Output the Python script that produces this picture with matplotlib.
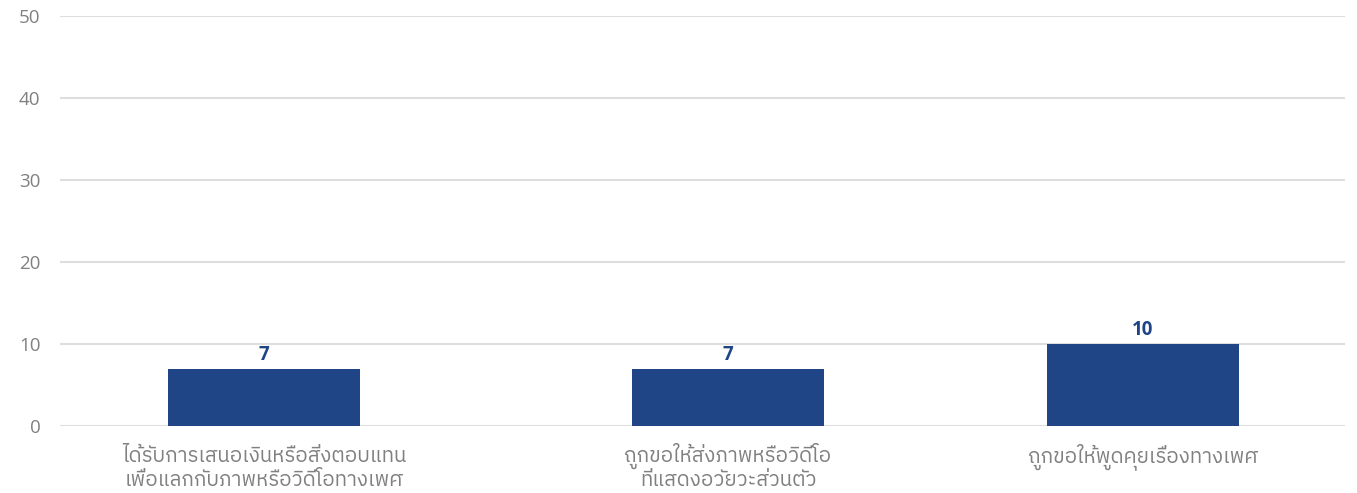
import matplotlib
matplotlib.use("Agg")
import matplotlib.pyplot as plt
from matplotlib import font_manager
from matplotlib.transforms import blended_transform_factory
from fontTools.ttLib import TTFont

categories = [
    "ได้รับการเสนอเงินหรือสิ่งตอบแทน\nเพื่อแลกกับภาพหรือวิดีโอทางเพศ",
    "ถูกขอให้ส่งภาพหรือวิดีโอ\nที่แสดงอวัยวะส่วนตัว",
    "ถูกขอให้พูดคุยเรื่องทางเพศ",
]
values = [7, 7, 10]
y_ticks = [0, 10, 20, 30, 40, 50]

# slot centres along the category axis
slots = [0.0, 1.0, 1.894]
bar_width = 0.414

BAR = "#1f4586"
GRID = "#dedede"
TXT = "#808080"


def thai_family():
    preferred = []
    others = []
    for f in font_manager.fontManager.ttflist:
        try:
            cmap = TTFont(f.fname, fontNumber=0, lazy=True).getBestCmap()
        except Exception:
            continue
        if cmap and 0x0E01 in cmap and 0x0E34 in cmap:
            if "Thai" in f.name or "Noto" in f.name:
                preferred.append(f.name)
            else:
                others.append(f.name)
    for name in preferred + others:
        return name
    return None


tf = thai_family()
families = ([tf] if tf else []) + ["Open Sans", "DejaVu Sans"]
plt.rcParams["font.family"] = ["Open Sans", "DejaVu Sans"]

fig = plt.figure(figsize=(13.57, 4.93), dpi=100)
ax = fig.add_axes([60 / 1357, 67 / 493, 1285 / 1357, 410 / 493])

ax.bar(slots, values, width=bar_width, color=BAR, zorder=3)
for x, v in zip(slots, values):
    ax.annotate(f"{v}", (x, v), xytext=(0, 9), textcoords="offset pixels",
                ha="center", va="baseline", fontsize=13.5, fontweight="bold",
                color=BAR, zorder=4)

ax.set_ylim(0, 50)
ax.set_xlim(-0.44, 2.33)
ax.set_yticks(y_ticks)
ax.set_yticklabels([str(t) for t in y_ticks], fontsize=13.5, color=TXT)
ax.yaxis.grid(True, color=GRID, linewidth=1.5, zorder=0)
ax.tick_params(axis="y", length=0, pad=14)
ax.set_xticks([])
for s in ax.spines.values():
    s.set_visible(False)

# category labels, one text per line so every line keeps the same spacing
base = blended_transform_factory(ax.transData, ax.transAxes)
for x, label in zip(slots, categories):
    for i, line in enumerate(label.split("\n")):
        ax.annotate(line, (x, 0), xycoords=base,
                    xytext=(0, -36 - 24 * i), textcoords="offset pixels",
                    ha="center", va="baseline", fontsize=14.8, color=TXT,
                    family=families, annotation_clip=False)

fig.savefig("out.png", dpi=100)
